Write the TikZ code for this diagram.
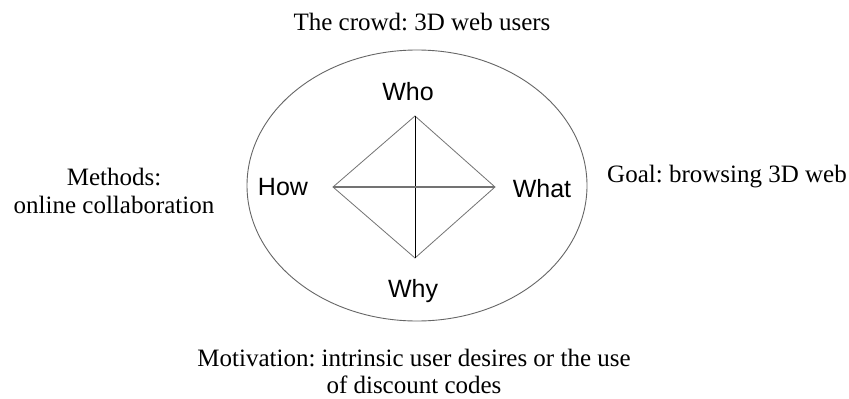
\documentclass[tikz,border=0pt]{standalone}
\usepackage{fontspec}
\setmainfont{Liberation Serif}
\newfontfamily\arialfont{Liberation Sans}
\usetikzlibrary{shapes.geometric}
\frenchspacing
\tikzset{
  serif/.style={font=\frenchspacing\fontsize{25}{27.5}\selectfont, inner sep=0pt, align=center, anchor=base},
  qlabel/.style={font=\arialfont\fontsize{25}{27.5}\selectfont, inner sep=0pt, anchor=base},
  edge/.style={draw=black!55, line width=0.8pt},
}
\begin{document}
\begin{tikzpicture}[x=1pt, y=-1pt]
\useasboundingbox[fill=white] (0,0) rectangle (849,399);
\node[ellipse, draw=black!60, line width=0.9pt, minimum width=340pt, minimum height=271pt, inner sep=0pt] (crowd) at (417,185.5) {};
\coordinate (top) at (415,116);
\coordinate (left) at (333,187);
\coordinate (right) at (495,187);
\coordinate (bottom) at (415,258);
\draw[edge] (top) -- (right) -- (bottom) -- (left) -- cycle;
\draw[draw=black, line width=0.8pt] (top) -- (bottom);
\draw[draw=black!55, line width=1.6pt] (left) -- (right);
\node[qlabel] (who) at (408,100) {Who};
\node[qlabel] (how) at (283,195) {How};
\node[qlabel] (what) at (542,197) {What};
\node[qlabel] (why) at (413,297) {Why};
\node[serif] (crowdtxt) at (422,30) {The crowd: 3D web users};
\node[serif] (methods) at (114,213) {Methods:\\[0.5pt]online collaboration};
\node[serif, anchor=base west] (goal) at (607,182) {Goal: browsing 3D web};
\node[serif] (motiv) at (414,393) {Motivation: intrinsic user desires or the use\\[-0.5pt]of discount codes};
\end{tikzpicture}
\end{document}
